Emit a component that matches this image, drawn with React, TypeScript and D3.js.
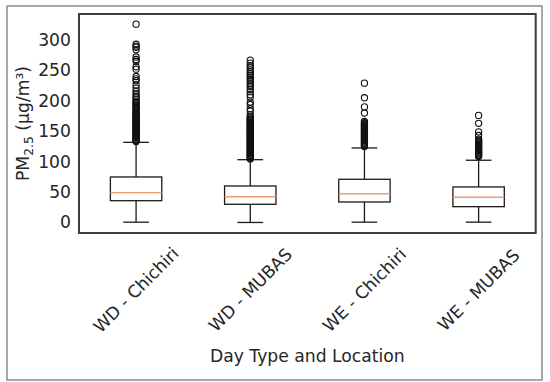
import React from 'react'
import * as d3 from 'd3'

// day type / location groups
const categories = ['WD - Chichiri', 'WD - MUBAS', 'WE - Chichiri', 'WE - MUBAS']

// box statistics (µg/m³)
const q1 = [35.8, 29.9, 33.7, 26.0]
const medians = [49.0, 42.4, 47.3, 41.4]
const q3 = [74.8, 60.0, 71.0, 58.4]
const whiskerLow = [0.5, 0.0, 0.5, 0.5]
const whiskerHigh = [131.8, 103.2, 122.5, 102.3]

const fliersWDChichiri = [
  326, 293, 290, 288, 284, 272, 268, 265, 256, 252, 240, 236, 233, 226, 221, 216, 212,
  208, 205, 202, 199, 197, 195, 193, 191, 189, 187, 185, 183, 181, 179, 177.5, 176,
  174.5, 173, 171.5, 170, 168.5, 167, 165.5, 164, 162.5, 161, 159.5, 158, 156.5, 155,
  153.5, 152, 150.5, 149, 147.5, 146, 144.5, 143, 141.5, 140, 138.5, 137, 135.5, 134, 133,
]
const fliersWDMubas = [
  267, 262, 258, 255, 251, 248, 245, 242, 239, 236, 233, 229, 226, 223, 219, 215, 210,
  206, 198, 194, 187, 183, 177, 174, 171.5, 170, 168.5, 167, 165.5, 164, 162.5, 161,
  159.5, 158, 156.5, 155, 153.5, 152, 150.5, 149, 147.5, 146, 144.5, 143, 141.5, 140,
  138.5, 137, 135.5, 134, 132.5, 131, 129.5, 128, 126.5, 125, 123.5, 122, 120.5, 119,
  117.5, 116, 114.5, 113, 111.5, 110, 108.5, 107, 105.5, 104.5,
]
const fliersWEChichiri = [
  229, 205, 190, 180, 166, 164, 162.5, 161, 159.5, 158, 156.5, 155, 153.5, 152, 150.5,
  149, 147.5, 146, 144.5, 143, 141.5, 140, 138.5, 137, 135.5, 134, 132.5, 131, 129.5,
  128, 126.5, 125,
]
const fliersWEMubas = [
  176, 163, 149, 143, 137, 135.5, 134, 132.5, 131, 129.5, 128, 126.5, 125, 123.5, 122,
  120.5, 119, 117.5, 116, 114.5, 113, 111.5, 110, 108.5,
]
const fliers = [fliersWDChichiri, fliersWDMubas, fliersWEChichiri, fliersWEMubas]

const yTicks = [0, 50, 100, 150, 200, 250, 300]

const W = 550
const H = 382
const margin = { top: 14, right: 14.3, bottom: 149, left: 79 }
const font = 'DejaVu Sans, sans-serif'
const fs = 17.2
const textColor = '#262626'

export default function App() {
  const x = d3.scaleLinear().domain([0.5, 4.5]).range([margin.left, W - margin.right])
  const y = d3.scaleLinear().domain([-17.3, 342.7]).range([H - margin.bottom, margin.top])
  const boxW = 0.45
  const capW = boxW / 2
  const plotBottom = H - margin.bottom
  const plotMid = (margin.left + W - margin.right) / 2

  return (
    <svg width={W} height={H} style={{ position: 'absolute', left: 0, top: 0 }} fontFamily={font}>
      <rect x={0} y={0} width={W} height={H} fill="#fff" />
      <rect x={7} y={6} width={535} height={374} fill="none" stroke="#8c8c8c" strokeWidth={1.5} />

      {categories.map((c, i) => {
        const p = i + 1
        const cx = x(p)
        return (
          <g key={c}>
            <line x1={cx} x2={cx} y1={y(q1[i])} y2={y(whiskerLow[i])} stroke="#1a1a1a" strokeWidth={1.3} />
            <line x1={cx} x2={cx} y1={y(q3[i])} y2={y(whiskerHigh[i])} stroke="#1a1a1a" strokeWidth={1.3} />
            <line x1={x(p - capW / 2)} x2={x(p + capW / 2)} y1={y(whiskerLow[i])} y2={y(whiskerLow[i])} stroke="#1a1a1a" strokeWidth={1.3} />
            <line x1={x(p - capW / 2)} x2={x(p + capW / 2)} y1={y(whiskerHigh[i])} y2={y(whiskerHigh[i])} stroke="#1a1a1a" strokeWidth={1.3} />
            <rect
              x={x(p - boxW / 2)}
              y={y(q3[i])}
              width={x(p + boxW / 2) - x(p - boxW / 2)}
              height={y(q1[i]) - y(q3[i])}
              fill="none"
              stroke="#1a1a1a"
              strokeWidth={1.3}
            />
            <line x1={x(p - boxW / 2)} x2={x(p + boxW / 2)} y1={y(medians[i])} y2={y(medians[i])} stroke="#f49b6c" strokeWidth={1.4} />
            {fliers[i].map((v, j) => (
              <circle key={j} cx={cx} cy={y(v)} r={3.1} fill="none" stroke="#111" strokeWidth={1.1} />
            ))}
          </g>
        )
      })}

      <rect
        x={margin.left}
        y={margin.top}
        width={W - margin.right - margin.left}
        height={plotBottom - margin.top}
        fill="none"
        stroke="#3d3d3d"
        strokeWidth={2}
      />

      {yTicks.map(t => (
        <text key={t} x={71} y={y(t)} textAnchor="end" dominantBaseline="central" fontSize={fs} fill={textColor}>
          {t}
        </text>
      ))}

      {categories.map((c, i) => (
        <text
          key={c}
          transform={`translate(${x(i + 1)},${plotBottom + 57}) rotate(-45)`}
          textAnchor="middle"
          dominantBaseline="central"
          fontSize={fs}
          fill={textColor}
        >
          {c}
        </text>
      ))}

      <text x={plotMid} y={362} textAnchor="middle" fontSize={fs} fill={textColor}>
        Day Type and Location
      </text>

      <text transform={`translate(29,${(margin.top + plotBottom) / 2}) rotate(-90)`} textAnchor="middle" fontSize={fs} fill={textColor}>
        PM
        <tspan fontSize={fs * 0.72} dy={3.5}>2.5</tspan>
        <tspan dy={-3.5}>{'\u00a0(µg/m³)'}</tspan>
      </text>
    </svg>
  )
}
